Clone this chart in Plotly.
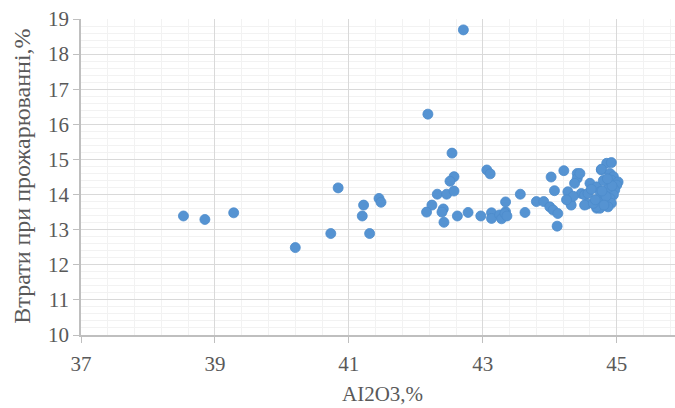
import plotly.graph_objects as go

al2o3 = [38.53, 38.85, 39.28, 40.20, 40.73, 40.84, 41.22, 41.20, 41.31, 41.45, 41.48,
         42.18, 42.71,
         42.54, 43.06, 43.11, 42.57, 42.51, 42.32, 42.46, 42.57, 42.24, 42.16, 42.41, 42.39,
         42.42, 42.62, 42.78, 42.97, 43.13, 43.13, 43.25, 43.28, 43.34, 43.34, 43.33, 43.36,
         43.56, 43.63, 43.80, 43.91, 44.02, 44.21, 44.07, 44.00, 44.05, 44.12, 44.11,
         44.41, 44.41, 44.27, 44.30, 44.32, 44.37, 44.47, 44.52, 44.56, 44.52,
         44.60, 44.70, 44.75, 44.77, 44.75, 44.77, 44.85, 44.70,
         44.92, 44.77, 44.90, 44.95, 44.92, 45.02, 45.00, 44.97, 44.95, 44.90, 44.85, 44.92,
         44.87, 44.75, 44.70, 44.65, 44.57, 44.45, 44.82, 44.88, 44.80, 44.84, 44.78, 44.93,
         44.68, 44.62, 44.86, 44.81, 44.35, 44.25]
loss = [13.39, 13.29, 13.48, 12.49, 12.89, 14.19, 13.70, 13.39, 12.89, 13.89, 13.78,
        16.29, 18.69,
        15.18, 14.70, 14.59, 14.51, 14.38, 14.01, 14.01, 14.10, 13.70, 13.50, 13.59, 13.50,
        13.21, 13.39, 13.49, 13.39, 13.48, 13.32, 13.42, 13.31, 13.51, 13.79, 13.46, 13.39,
        14.01, 13.49, 13.80, 13.80, 14.50, 14.68, 14.11, 13.65, 13.56, 13.46, 13.10,
        14.60, 14.46, 14.08, 13.80, 13.70, 14.32, 14.03, 13.99, 13.73, 13.70,
        14.32, 14.22, 14.08, 13.89, 13.65, 14.70, 14.89, 13.61,
        14.91, 14.72, 14.60, 14.51, 14.41, 14.36, 14.27, 14.13, 13.99, 13.89, 13.80, 13.75,
        13.65, 13.61, 13.65, 13.75, 14.03, 14.60, 14.00, 14.20, 14.40, 13.95, 14.10, 14.25,
        13.85, 14.15, 14.45, 13.70, 13.95, 13.85]

x_title = "AI2O3,%"
y_title = "Втрати при прожарюванні,%"

font_family = "Liberation Serif, Times New Roman, serif"
text_color = "#595959"

fig = go.Figure(go.Scatter(
    x=al2o3, y=loss, mode="markers",
    marker=dict(size=10, color="#5593d2", line=dict(width=0.8, color="#4d8bcb")),
))

fig.update_layout(
    width=675, height=408,
    margin=dict(l=81, r=0, t=19, b=73),
    paper_bgcolor="white", plot_bgcolor="white",
    showlegend=False,
    font=dict(family=font_family, size=21, color=text_color),
    annotations=[
        dict(text=x_title, xref="paper", yref="paper", x=0.508, y=-0.1867,
             xanchor="center", yanchor="middle", showarrow=False,
             font=dict(family=font_family, size=21, color=text_color)),
        dict(text=y_title, xref="paper", yref="paper", x=-0.1, y=0.503,
             xanchor="center", yanchor="middle", showarrow=False, textangle=-90,
             font=dict(family=font_family, size=24, color=text_color)),
    ],
)

fig.update_xaxes(
    range=[37, 45.87], tick0=37, dtick=2,
    showgrid=True, gridcolor="#d9d9d9", gridwidth=1.3,
    minor=dict(tick0=37, dtick=0.4, showgrid=True, gridcolor="#f2f2f2", gridwidth=1.3),
    showline=True, linecolor="#bfbfbf", linewidth=1.5,
    ticks="outside", ticklen=6, tickcolor="#bfbfbf",
    ticklabelstandoff=3,
    zeroline=False,
)
fig.update_yaxes(
    range=[10, 19], tick0=10, dtick=1,
    showgrid=True, gridcolor="#d9d9d9", gridwidth=1.3,
    minor=dict(tick0=10, dtick=0.2, showgrid=True, gridcolor="#f2f2f2", gridwidth=1.3),
    showline=True, linecolor="#bfbfbf", linewidth=1.5,
    ticks="outside", ticklen=6, tickcolor="#bfbfbf",
    zeroline=False,
)

fig.write_html("out.html")
